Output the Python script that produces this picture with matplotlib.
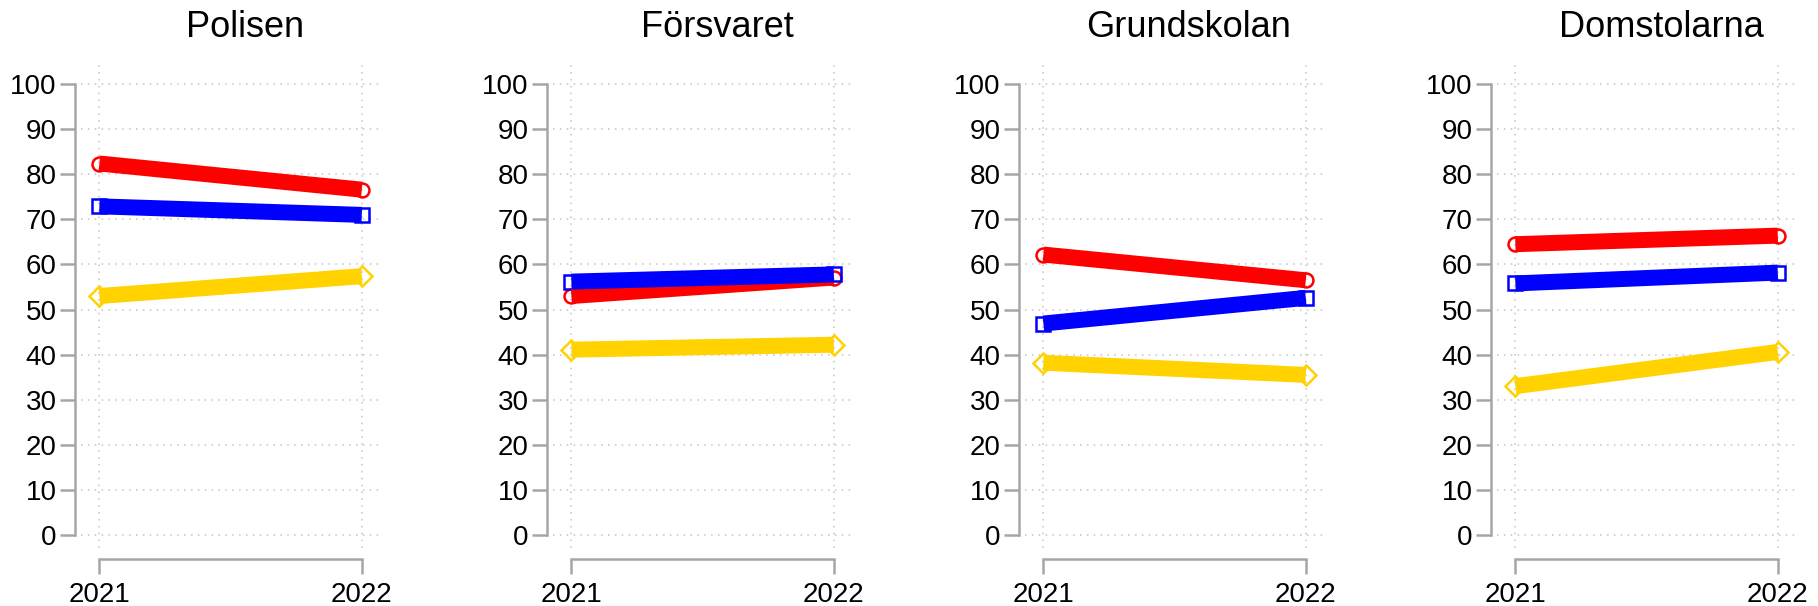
import matplotlib.pyplot as plt

plt.rcParams['font.family'] = ['Liberation Sans', 'DejaVu Sans']

# Data
years = [2021, 2022]
titles = ["Polisen", "Försvaret", "Grundskolan", "Domstolarna"]
red_values = [[82.4, 76.6], [53.0, 57.1], [62.2, 56.5], [64.5, 66.4]]
blue_values = [[72.9, 71.0], [56.2, 57.8], [46.9, 52.6], [55.8, 58.2]]
yellow_values = [[53.0, 57.4], [41.1, 42.2], [38.2, 35.5], [33.0, 40.6]]
y_ticks = list(range(0, 101, 10))

series = [
    (red_values, "#ff0000", "o"),
    (blue_values, "#0000ff", "s"),
    (yellow_values, "#ffd200", "D"),
]

W, H = 1818, 606
fig = plt.figure(figsize=(W / 100, H / 100), dpi=100)

spine_color = "#a6a6a6"

for i, title in enumerate(titles):
    left = 81 + i * 472
    ax = fig.add_axes([left / W, 1 - 548 / H, 301 / W, 485 / H])

    # markers first, thick lines on top of them
    for values, color, marker in series:
        ax.plot(years, values[i], linestyle="none", marker=marker, markersize=10,
                markerfacecolor="none", markeredgecolor=color, markeredgewidth=1.8,
                zorder=2)
        ax.plot(years, values[i], color=color, linewidth=11.5,
                solid_capstyle="butt", zorder=3)

    ax.set_xlim(2020.93, 2022.077)
    ax.set_ylim(-2.9, 104.7)
    ax.set_xticks(years)
    ax.set_xticklabels([str(y) for y in years])
    ax.set_yticks(y_ticks)

    ax.grid(True, linestyle=(0, (1, 3.5)), color="#c4c4c4", linewidth=1.1, zorder=0)

    for side in ["top", "right"]:
        ax.spines[side].set_visible(False)
    ax.spines["left"].set_position(("outward", 4))
    ax.spines["left"].set_bounds(0, 100)
    ax.spines["bottom"].set_position(("outward", 8))
    ax.spines["bottom"].set_bounds(2021, 2022)
    for side in ["left", "bottom"]:
        ax.spines[side].set_color(spine_color)
        ax.spines[side].set_linewidth(1.8)

    ax.tick_params(axis="both", colors=spine_color, labelcolor="black",
                   labelsize=20, length=10.5, width=1.8)
    ax.tick_params(axis="y", pad=3)
    ax.tick_params(axis="x", pad=6)

    ax.set_title(title, fontsize=26, x=0.545, pad=19)

fig.savefig("out.png", dpi=100)
